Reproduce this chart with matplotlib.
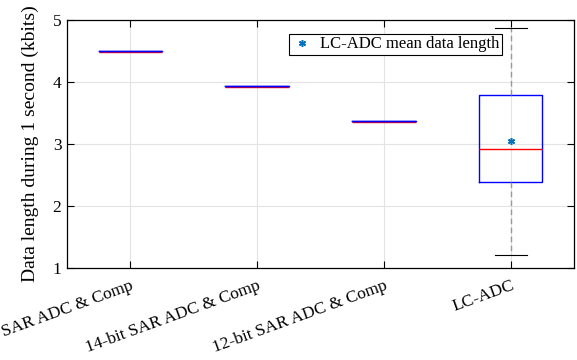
import matplotlib.pyplot as plt
import matplotlib.patheffects as pe

plt.rcParams['font.family'] = ['Liberation Serif', 'DejaVu Serif']

labels = ['16-bit SAR ADC & Comp', '14-bit SAR ADC & Comp',
          '12-bit SAR ADC & Comp', 'LC-ADC']
fixed_lengths = [4.50, 3.94, 3.37]  # kbits, constant data length
lc_q1, lc_med, lc_q3 = 2.38, 2.92, 3.79
lc_lo, lc_hi = 1.21, 4.87
lc_mean = 3.05

fig = plt.figure(figsize=(5.77, 3.6), dpi=100)
ax = fig.add_axes([0.116, 0.2556, 0.879, 0.6889])

box_kw = dict(widths=0.5, showfliers=False,
              boxprops=dict(color='#0000FF', linewidth=1.0),
              whiskerprops=dict(color='#999999', linestyle=(0, (4, 2.5)), linewidth=1.0),
              capprops=dict(color='black', linewidth=0.8))

# collapsed boxes: median drawn just below the box edge, as in the original
fixed_stats = [dict(med=v, q1=v, q3=v, whislo=v, whishi=v) for v in fixed_lengths]
ax.bxp(fixed_stats, positions=[1, 2, 3], showcaps=False,
       medianprops=dict(color='#FF0000', linewidth=1.0,
                        path_effects=[pe.SimpleLineShadow(offset=(0, -0.9), shadow_color='#FF0000',
                                                          alpha=1, rho=1)],
                        zorder=1.9),
       **box_kw)

lc_stats = [dict(med=lc_med, q1=lc_q1, q3=lc_q3, whislo=lc_lo, whishi=lc_hi)]
ax.bxp(lc_stats, positions=[4], capwidths=0.25,
       medianprops=dict(color='#FF0000', linewidth=1.0), **box_kw)

ax.plot([4], [lc_mean], linestyle='none', marker=(6, 2, 0), markersize=5,
        markeredgewidth=1.1, color='#0072BD', label='LC-ADC mean data length')

ax.set_xlim(0.5, 4.5)
ax.set_ylim(1, 5)
ax.set_yticks([1, 2, 3, 4, 5])
ax.set_xticks([1, 2, 3, 4])
ax.set_xticklabels(labels, rotation=20, ha='right', rotation_mode='anchor')
ax.set_ylabel('Data length during 1 second (kbits)', fontsize=14, labelpad=10)
ax.tick_params(direction='in', top=True, right=True, length=5, width=0.8,
               labelsize=12.5, pad=4)
ax.tick_params(axis='x', pad=7)
ax.grid(True, color='#E3E3E3', linewidth=0.8)
ax.set_axisbelow(True)
for s in ax.spines.values():
    s.set_linewidth(0.9)

leg = ax.legend(loc='upper right', bbox_to_anchor=(0.858, 0.944), fontsize=12,
                fancybox=False, framealpha=1, edgecolor='black',
                borderpad=0.15, handletextpad=0.5, handlelength=1.2,
                borderaxespad=0)
leg.get_frame().set_linewidth(0.8)

fig.savefig('out.png', dpi=100)
